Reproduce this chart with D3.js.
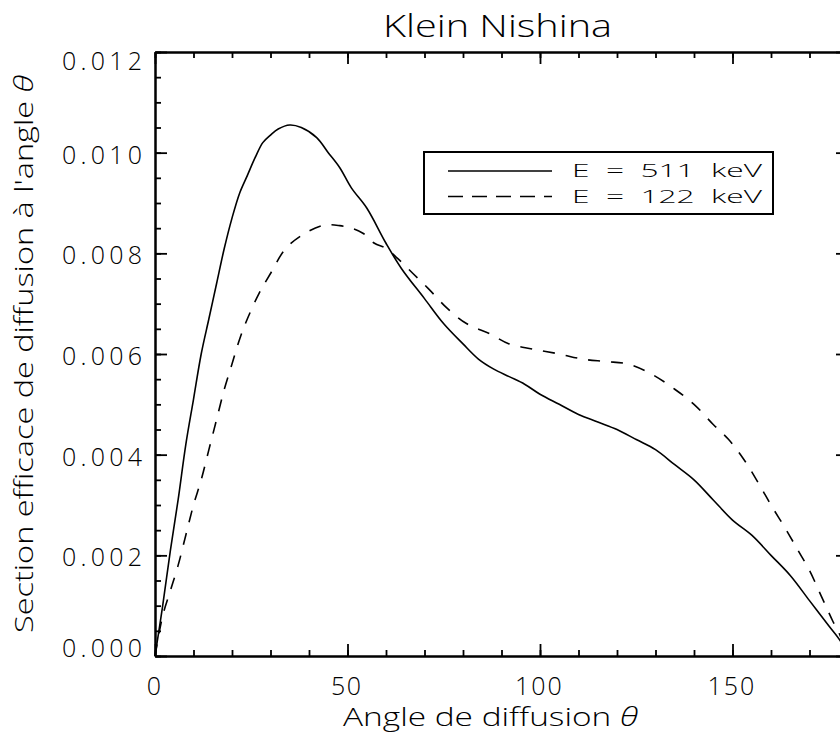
<!DOCTYPE html>
<html>
<head>
<meta charset="utf-8">
<script src="https://cdn.jsdelivr.net/npm/d3@7/dist/d3.min.js"></script>
<style>
  html, body { margin: 0; padding: 0; background: #fff; }
  svg { display: block; }
  .lbl { font-family: "Open Sans", "Liberation Sans", Arial, sans-serif; font-weight: 300; fill: #000; }
  .num { font-family: "Open Sans", "Liberation Sans", Arial, sans-serif; font-weight: 300; fill: #000; }
</style>
</head>
<body>
<svg id="chart" width="840" height="732"></svg>
<script>
// ---- data ----
const title = "Klein Nishina";
const xTitle = "Angle de diffusion ";
const yTitle = "Section efficace de diffusion à l'angle ";
const seriesNames = ["E  =  511  keV", "E  =  122  keV"];

const xMajorTicks = [0, 50, 100, 150];
const xTickLabels = ["0", "50", "100", "150"];
const yMajorTicks = [0, 0.002, 0.004, 0.006, 0.008, 0.010, 0.012];
const yTickLabels = ["0.000", "0.002", "0.004", "0.006", "0.008", "0.010", "0.012"];

const angles511 = [0, 2, 4, 6, 8, 10, 12, 14, 16, 18, 20, 22, 24, 26, 28, 30, 32, 35, 38, 42, 45, 48, 51, 55, 60, 64, 70, 75, 80, 84, 88, 92, 96, 100, 105, 110, 115, 120, 125, 130, 135, 140, 145, 150, 155, 160, 165, 170, 175, 178, 180];
const values511 = [0, 0.0010, 0.0021, 0.0031, 0.0042, 0.0051, 0.0060, 0.0067, 0.0074, 0.0081, 0.0087, 0.0092, 0.00955, 0.0099, 0.0102, 0.01035, 0.01047, 0.01055, 0.0105, 0.0103, 0.0100, 0.0097, 0.0093, 0.0089, 0.0082, 0.0077, 0.0071, 0.0066, 0.0062, 0.0059, 0.0057, 0.00555, 0.0054, 0.0052, 0.0050, 0.0048, 0.00465, 0.0045, 0.0043, 0.0041, 0.0038, 0.0035, 0.0031, 0.0027, 0.0024, 0.0020, 0.0016, 0.0011, 0.0006, 0.0003, 0];

const angles122 = [0, 2, 4, 6, 8, 10, 12, 14, 16, 18, 20, 22, 24, 27, 30, 34, 39, 44, 48, 51, 54, 57, 60, 63, 67, 71, 76, 81, 87, 92, 98, 105, 111, 117, 123, 129, 135, 140, 145, 149, 153, 157, 160, 164, 167, 170, 173, 176, 178, 180];
const values122 = [0, 0.0008, 0.0013, 0.0018, 0.0024, 0.0030, 0.0035, 0.0041, 0.0047, 0.0053, 0.0058, 0.0063, 0.0067, 0.0072, 0.0076, 0.0081, 0.0084, 0.00856, 0.00855, 0.0085, 0.0084, 0.0082, 0.0081, 0.0079, 0.0076, 0.0073, 0.0069, 0.0066, 0.0064, 0.0062, 0.0061, 0.0060, 0.0059, 0.00585, 0.0058, 0.0056, 0.0053, 0.0050, 0.0046, 0.0043, 0.0039, 0.0034, 0.0030, 0.0025, 0.0021, 0.0017, 0.0012, 0.0007, 0.0004, 0];

// ---- layout ----
const L = 155, R = 848, T = 52, B = 656;
const svg = d3.select("#chart");
const x = d3.scaleLinear().domain([0, 180]).range([L, R]);
const y = d3.scaleLinear().domain([0, 0.012]).range([B, T]);

const xMinor = d3.range(0, 181, 10);
const yMinor = d3.range(0, 0.01201, 0.0005);

function styleAxis(g) {
  g.selectAll("path.domain").attr("stroke", "#000").attr("stroke-width", 2);
  g.selectAll(".tick line").attr("stroke", "#000").attr("stroke-width", 1.8);
  g.selectAll(".tick text").remove();
}

// minor ticks
svg.append("g").attr("transform", `translate(0,${B})`)
  .call(d3.axisBottom(x).tickValues(xMinor).tickSizeInner(-6).tickSizeOuter(0).tickFormat(""))
  .call(styleAxis);
svg.append("g").attr("transform", `translate(0,${T})`)
  .call(d3.axisTop(x).tickValues(xMinor).tickSizeInner(-6).tickSizeOuter(0).tickFormat(""))
  .call(styleAxis);
svg.append("g").attr("transform", `translate(${L},0)`)
  .call(d3.axisLeft(y).tickValues(yMinor).tickSizeInner(-6).tickSizeOuter(0).tickFormat(""))
  .call(styleAxis);
svg.append("g").attr("transform", `translate(${R},0)`)
  .call(d3.axisRight(y).tickValues(yMinor).tickSizeInner(-6).tickSizeOuter(0).tickFormat(""))
  .call(styleAxis);
// major ticks
svg.append("g").attr("transform", `translate(0,${B})`)
  .call(d3.axisBottom(x).tickValues(xMajorTicks).tickSizeInner(-12).tickSizeOuter(0).tickFormat(""))
  .call(styleAxis);
svg.append("g").attr("transform", `translate(0,${T})`)
  .call(d3.axisTop(x).tickValues(xMajorTicks).tickSizeInner(-12).tickSizeOuter(0).tickFormat(""))
  .call(styleAxis);
svg.append("g").attr("transform", `translate(${L},0)`)
  .call(d3.axisLeft(y).tickValues(yMajorTicks).tickSizeInner(-12).tickSizeOuter(0).tickFormat(""))
  .call(styleAxis);
svg.append("g").attr("transform", `translate(${R},0)`)
  .call(d3.axisRight(y).tickValues(yMajorTicks).tickSizeInner(-12).tickSizeOuter(0).tickFormat(""))
  .call(styleAxis);

// tick labels
svg.append("g").selectAll("text").data(yMajorTicks).join("text")
  .attr("class", "num")
  .attr("font-size", 25)
  .attr("x", 62)
  .attr("y", d => Math.max(T + 18, Math.min(B + 1, y(d) + 11)))
  .attr("textLength", 80).attr("lengthAdjust", "spacing")
  .text((d, i) => yTickLabels[i]);

svg.append("g").selectAll("text").data(xMajorTicks).join("text")
  .attr("class", "num")
  .attr("font-size", 25)
  .attr("x", (d, i) => x(d) - xTickLabels[i].length * 8.3)
  .attr("y", 695)
  .attr("textLength", (d, i) => xTickLabels[i].length * 16.6 - 3)
  .attr("lengthAdjust", "spacing")
  .text((d, i) => xTickLabels[i]);

// titles
svg.append("text").attr("class", "lbl")
  .attr("font-size", 31)
  .attr("x", 383).attr("y", 37)
  .attr("textLength", 229).attr("lengthAdjust", "spacingAndGlyphs")
  .text(title);

const xt = svg.append("text").attr("class", "lbl")
  .attr("font-size", 25)
  .attr("x", 343).attr("y", 726)
  .attr("textLength", 295).attr("lengthAdjust", "spacingAndGlyphs");
xt.append("tspan").text(xTitle);
xt.append("tspan").attr("font-style", "italic").text("θ");

const yt = svg.append("text").attr("class", "lbl")
  .attr("font-size", 25)
  .attr("transform", "translate(33,633) rotate(-90)")
  .attr("textLength", 558).attr("lengthAdjust", "spacingAndGlyphs");
yt.append("tspan").text(yTitle);
yt.append("tspan").attr("font-style", "italic").text("θ");

// curves
const line = d3.line().x(d => x(d[0])).y(d => y(d[1])).curve(d3.curveCatmullRom.alpha(0.5));
const data511 = angles511.map((a, i) => [a, values511[i]]);
const data122 = angles122.map((a, i) => [a, values122[i]]);

svg.append("path").datum(data511)
  .attr("d", line).attr("fill", "none").attr("stroke", "#000").attr("stroke-width", 1.6);
svg.append("path").datum(data122)
  .attr("d", line).attr("fill", "none").attr("stroke", "#000").attr("stroke-width", 1.6)
  .attr("stroke-dasharray", "12,11");

// legend
const lg = svg.append("g");
lg.append("rect").attr("x", 424).attr("y", 152).attr("width", 349).attr("height", 62)
  .attr("fill", "#fff").attr("stroke", "#000").attr("stroke-width", 2);
const dashes = [null, "15,9"];
const lineY = [171, 196.5];
const textY = [176.5, 202.5];
seriesNames.forEach((name, i) => {
  lg.append("line").attr("x1", 448).attr("x2", 552).attr("y1", lineY[i]).attr("y2", lineY[i])
    .attr("stroke", "#000").attr("stroke-width", 1.6)
    .attr("stroke-dasharray", dashes[i]);
  lg.append("text").attr("class", "lbl")
    .attr("font-size", 19)
    .attr("xml:space", "preserve")
    .style("white-space", "pre")
    .attr("x", 572).attr("y", textY[i])
    .attr("textLength", 190).attr("lengthAdjust", "spacingAndGlyphs")
    .text(name);
});
</script>
</body>
</html>
